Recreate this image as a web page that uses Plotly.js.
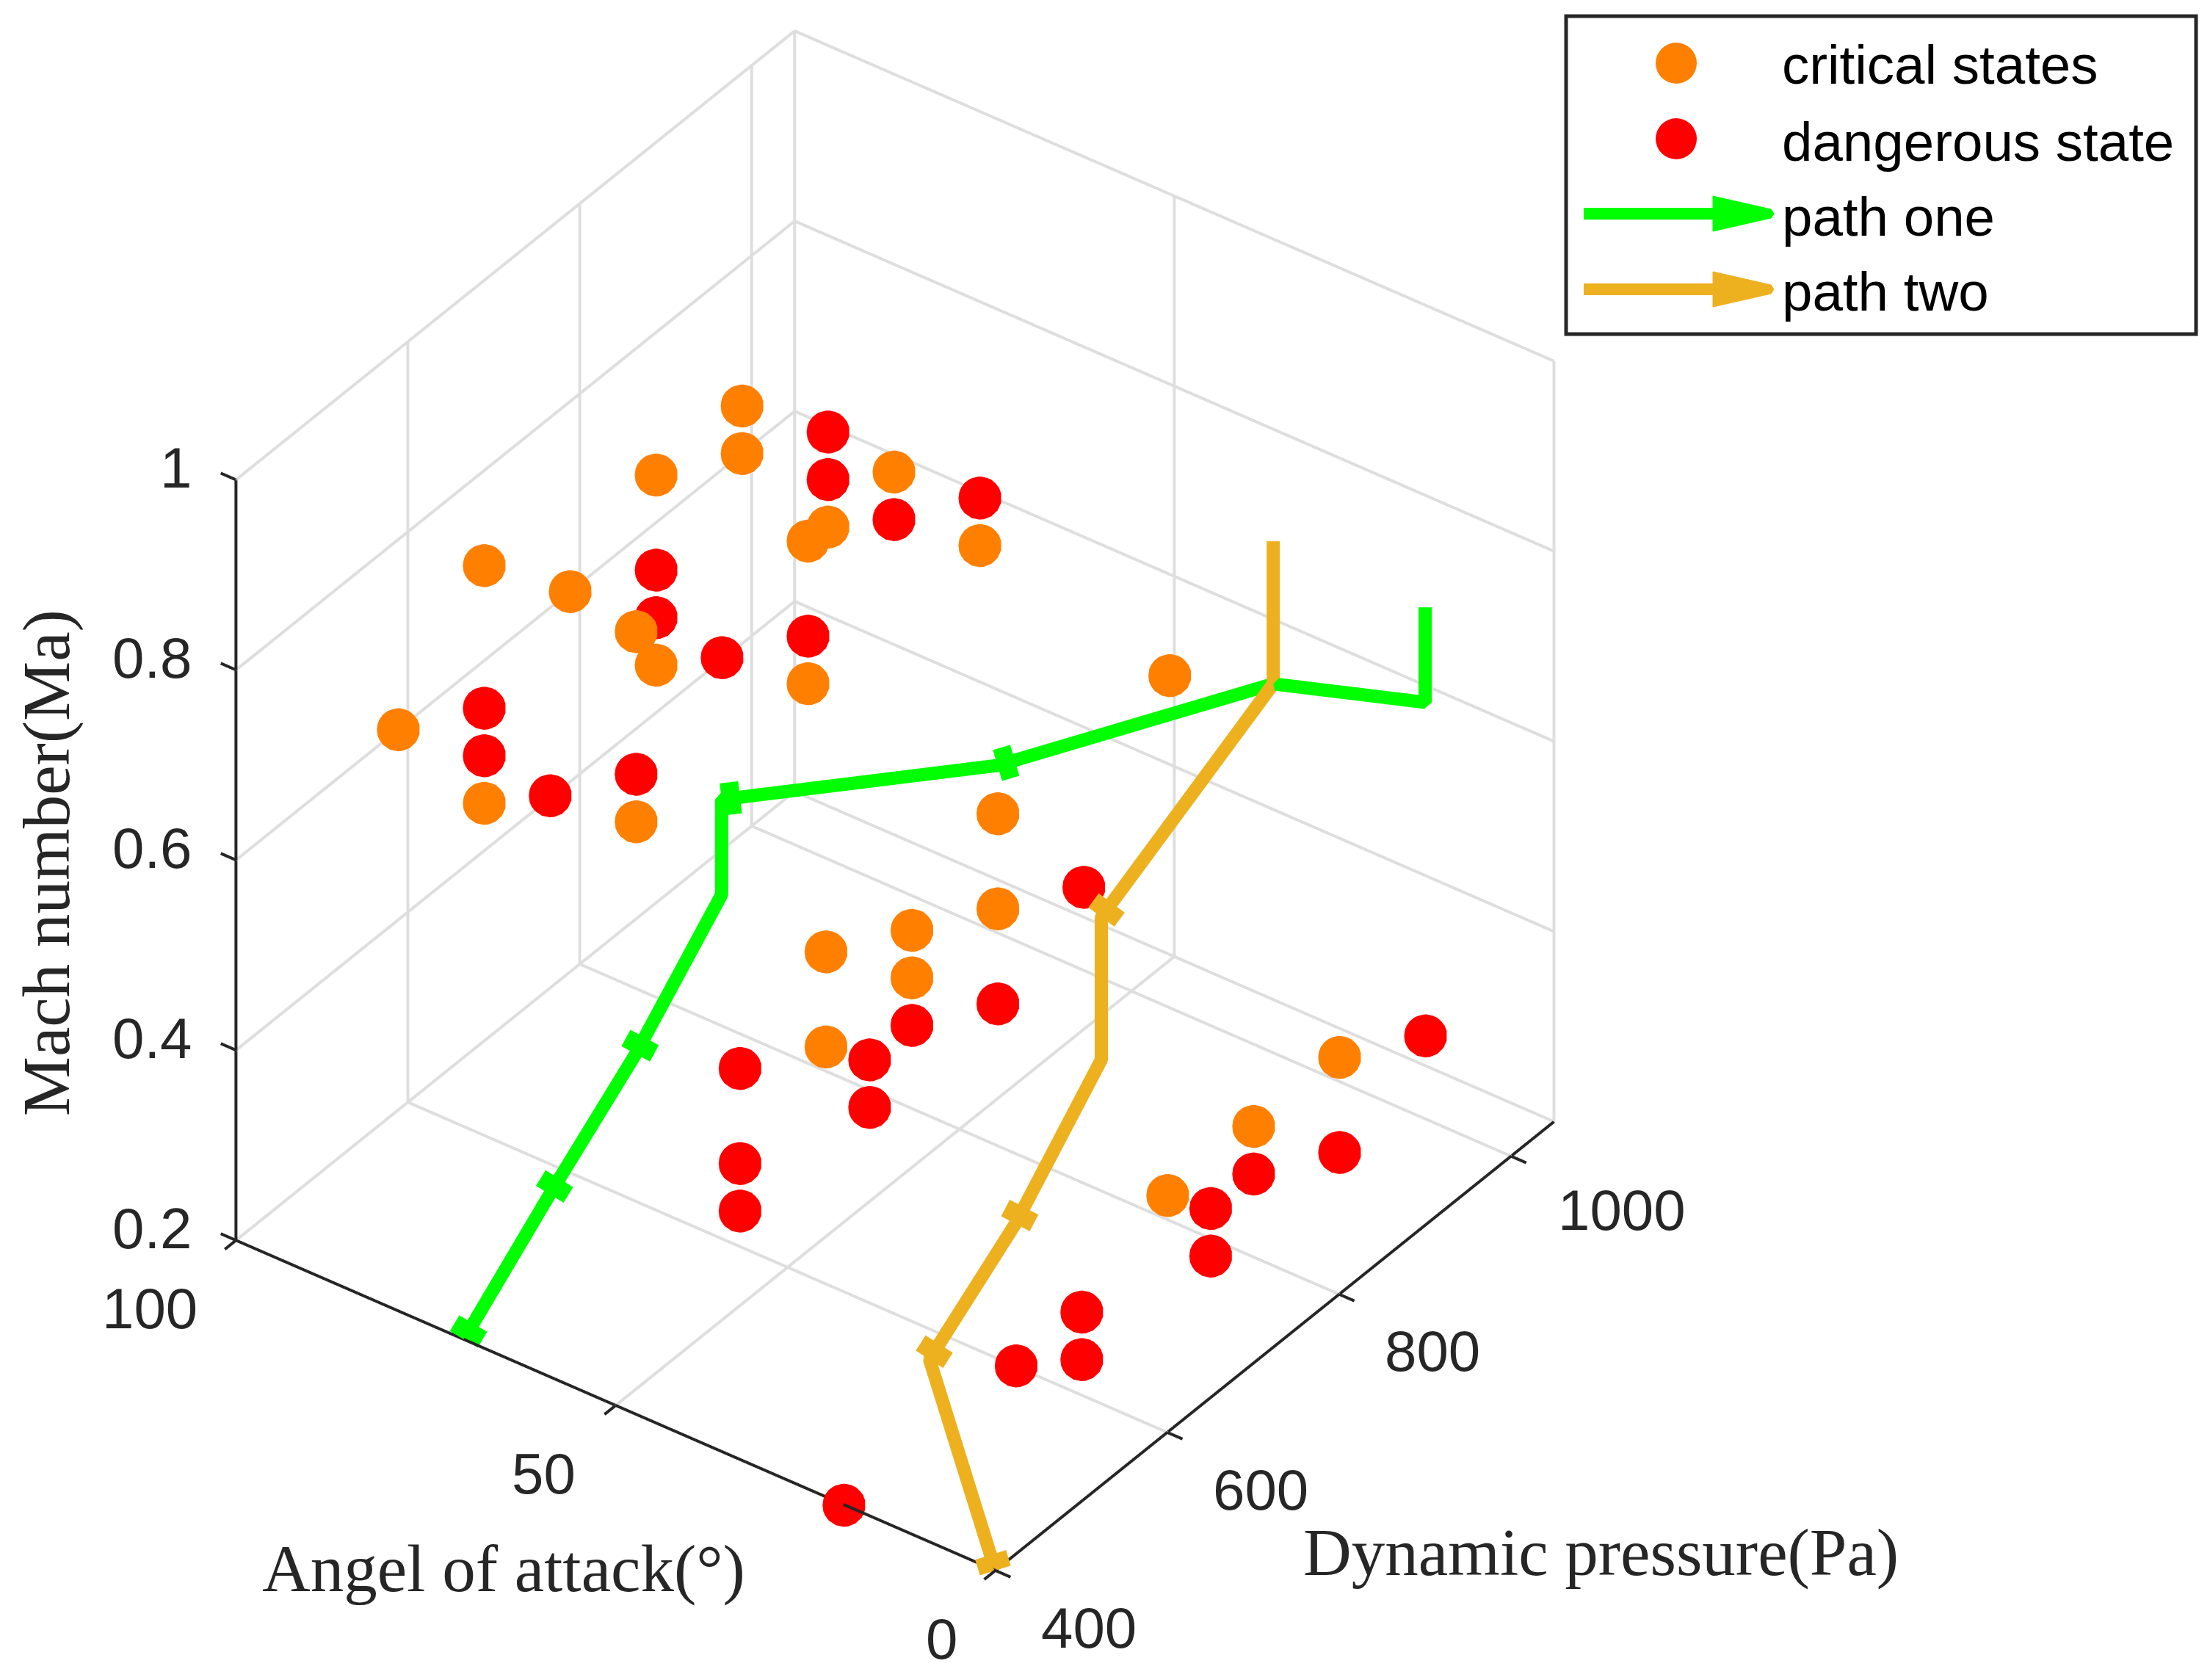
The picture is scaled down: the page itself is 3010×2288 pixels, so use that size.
<!DOCTYPE html>
<html><head><meta charset="utf-8">
<script src="https://cdn.plot.ly/plotly-3.0.1.min.js"></script>
<style>html,body{margin:0;padding:0;background:#fff}</style></head>
<body><div id="chart" style="width:3010px;height:2288px"></div>
<script>
// x = dynamic pressure, y = angle of attack, z = Mach number
const criticalQ = [900,900,800,900,1000,800,1000,600,700,600,800,800,1000,500,600,600,800,800,700,700,600,600,800,700,600];
const criticalA = [90,90,90,70,90,70,70,90,90,70,90,70,45,90,90,70,45,45,45,45,45,45,0,0,0];
const criticalM = [0.75,0.70,0.75,0.75,0.55,0.75,0.60,0.80,0.70,0.80,0.55,0.60,0.55,0.70,0.55,0.60,0.55,0.45,0.50,0.45,0.55,0.45,0.45,0.45,0.45];

const dangerQ = [1000,1000,900,1000,800,800,700,800,600,600,500,600,900,800,700,695,695,500,500,500,900,800,700,650,650,500,500,512,400];
const dangerA = [90,90,70,70,90,90,70,70,90,90,70,70,45,45,45,50,50,45,45,45,0,0,0,0,0,0,0,10,20];
const dangerM = [0.65,0.60,0.70,0.65,0.65,0.60,0.70,0.65,0.65,0.60,0.70,0.65,0.40,0.35,0.40,0.35,0.30,0.50,0.40,0.35,0.40,0.35,0.40,0.40,0.35,0.40,0.35,0.30,0.20];

const pathOneQ = [900,900,900,800,700,700,600,500,400];
const pathOneA = [0,0,20,45,70,70,70,70,70];
const pathOneM = [0.85,0.75,0.70,0.60,0.55,0.45,0.355,0.28,0.20];
const pathOneHeads = [3,4,6,7,8];

const pathTwoQ = [900,900,700,700,600,500,400];
const pathTwoA = [20,20,20,20,20,20,0];
const pathTwoM = [0.85,0.70,0.60,0.45,0.35,0.28,0.20];
const pathTwoHeads = [2,4,5,6];

const qRange = [400,1050], aRange = [0,100], mRange = [0.2,1];
const qTicks = [400,600,800,1000], aTicks = [0,50,100], mTicks = [0.2,0.4,0.6,0.8,1];
const mTickText = ['0.2','0.4','0.6','0.8','1'];

const seriesNames = ['critical states','dangerous state','path one','path two'];
const titleAlpha = 'Angel of attack(°)', titleQ = 'Dynamic pressure(Pa)', titleM = 'Mach number(Ma)';

const ORANGE='#FF8000', RED='#FF0000', GREEN='#00FF00', GOLD='#EDB120', INK='#262626', GRID='#DEDEDE';
const W=3010,H=2288;
const PAD=0.03, TICK=0.02, HEAD=0.02;
const pad=r=>[r[0]-PAD*(r[1]-r[0]),r[1]+PAD*(r[1]-r[0])];
const qSpan=qRange[1]-qRange[0], aSpan=aRange[1]-aRange[0], mSpan=mRange[1]-mRange[0];

function segs(list){ // list of [x0,y0,z0,x1,y1,z1]
  const x=[],y=[],z=[];
  list.forEach(s=>{x.push(s[0],s[3],null);y.push(s[1],s[4],null);z.push(s[2],s[5],null);});
  return {x,y,z};
}
// short wide stub just upstream of a path node: the squat arrow head of the original
function heads(q,a,m,idx){
  return segs(idx.map(i=>{
    const dx=(q[i]-q[i-1])/qSpan, dy=(a[i]-a[i-1])/aSpan, dz=(m[i]-m[i-1])/mSpan;
    const n=Math.hypot(dx,dy,dz);
    return [q[i],a[i],m[i],q[i]-dx/n*HEAD*qSpan,a[i]-dy/n*HEAD*aSpan,m[i]-dz/n*HEAD*mSpan];
  }));
}
const gridSegs=[], axisSegs=[];
const [q0,q1]=qRange,[a0,a1]=aRange,[m0,m1]=mRange;
qTicks.forEach(q=>{gridSegs.push([q,a0,m0,q,a1,m0],[q,a1,m0,q,a1,m1]);});
aTicks.forEach(a=>{gridSegs.push([q0,a,m0,q1,a,m0],[q1,a,m0,q1,a,m1]);});
mTicks.forEach(m=>{gridSegs.push([q0,a1,m,q1,a1,m],[q1,a0,m,q1,a1,m]);});
axisSegs.push([q0,a0,m0,q1,a0,m0],[q0,a0,m0,q0,a1,m0],[q0,a1,m0,q0,a1,m1]);
qTicks.forEach(q=>axisSegs.push([q,a0,m0,q,a0-TICK*aSpan,m0]));
aTicks.forEach(a=>axisSegs.push([q0,a,m0,q0-TICK*qSpan,a,m0]));
mTicks.forEach(m=>axisSegs.push([q0,a1,m,q0,a1+TICK*aSpan,m]));

const lineBase={type:'scatter3d',mode:'lines',showlegend:false,hoverinfo:'skip',connectgaps:false};
const traces=[
 Object.assign({},lineBase,{line:{color:GRID,width:8}},segs(gridSegs)),
 Object.assign({},lineBase,{line:{color:INK,width:8}},segs(axisSegs)),
 {type:'scatter3d',mode:'lines',name:seriesNames[2],x:pathOneQ,y:pathOneA,z:pathOneM,line:{color:GREEN,width:36},showlegend:false},
 {type:'scatter3d',mode:'lines',name:seriesNames[3],x:pathTwoQ,y:pathTwoA,z:pathTwoM,line:{color:GOLD,width:36},showlegend:false},
 Object.assign({},lineBase,{line:{color:GREEN,width:88}},heads(pathOneQ,pathOneA,pathOneM,pathOneHeads)),
 Object.assign({},lineBase,{line:{color:GOLD,width:88}},heads(pathTwoQ,pathTwoA,pathTwoM,pathTwoHeads)),
 {type:'scatter3d',mode:'markers',name:seriesNames[0],x:criticalQ,y:criticalA,z:criticalM,marker:{color:ORANGE,size:34,line:{width:0}},showlegend:false},
 {type:'scatter3d',mode:'markers',name:seriesNames[1],x:dangerQ,y:dangerA,z:dangerM,marker:{color:RED,size:34,line:{width:0}},showlegend:false}
];
const tickFont={family:'"Liberation Sans",Arial,sans-serif',size:78,color:INK};
const sceneAnn=[];
mTicks.forEach((m,i)=>sceneAnn.push({x:qRange[0],y:aRange[1],z:m,text:mTickText[i],showarrow:false,xanchor:'right',xshift:-58,yshift:16,font:tickFont}));
aTicks.forEach(a=>sceneAnn.push({x:qRange[0],y:a,z:mRange[0],text:String(a),showarrow:false,xanchor:'center',xshift:a===100?-117:(a===50?-98:-73),yshift:-93,font:tickFont}));
qTicks.forEach(q=>sceneAnn.push({x:q,y:aRange[0],z:mRange[0],text:String(q),showarrow:false,xanchor:'center',xshift:q===1000?151:127,yshift:q===1000?-74:-78,font:tickFont}));

const axisBase={showbackground:false,showgrid:false,zeroline:false,showline:false,showticklabels:false,ticks:'',showspikes:false,title:{text:''},autorange:false};

const titleFont={family:'"Liberation Serif","Times New Roman",serif',size:91,color:INK};
const legFont={family:'"Liberation Sans",Arial,sans-serif',size:74.5,color:'#000'};
const px=v=>v/W, py=v=>1-v/H;
const legendRows=[{c:ORANGE,y:86,ty:89},{c:RED,y:189,ty:193},{c:GREEN,y:291,ty:295},{c:GOLD,y:394,ty:397}];
const shapes=[{type:'rect',xref:'paper',yref:'paper',x0:px(2133),x1:px(2991),y0:py(22),y1:py(455),line:{color:INK,width:5},fillcolor:'#fff'}];
legendRows.slice(0,2).forEach(r=>shapes.push({type:'circle',xref:'paper',yref:'paper',x0:px(2283-28),x1:px(2283+28),y0:py(r.y-28),y1:py(r.y+28),fillcolor:r.c,line:{width:0}}));
legendRows.slice(2).forEach(r=>{
  shapes.push({type:'line',xref:'paper',yref:'paper',x0:px(2157),x1:px(2340),y0:py(r.y),y1:py(r.y),line:{color:r.c,width:16}});
  shapes.push({type:'path',xref:'paper',yref:'paper',path:`M ${px(2333)} ${py(r.y-24)} L ${px(2412)} ${py(r.y-6)} L ${px(2416)} ${py(r.y)} L ${px(2412)} ${py(r.y+6)} L ${px(2333)} ${py(r.y+24)} Z`,fillcolor:r.c,line:{color:r.c,width:1}});
});
const mid={xanchor:'center',yanchor:'middle',showarrow:false,xref:'paper',yref:'paper'};
const annotations=[
 Object.assign({x:px(686),y:py(2136),text:titleAlpha,font:titleFont},mid),
 Object.assign({x:px(2180),y:py(2114),text:titleQ,font:titleFont},mid),
 Object.assign({x:px(63),y:py(1175),text:titleM,textangle:-90,font:titleFont},mid)
];
seriesNames.forEach((n,i)=>annotations.push(Object.assign({},mid,{x:px(2425),y:py(legendRows[i].ty),xanchor:'left',text:n,font:legFont})));

const d=1.6, S=1.255;
const layout={width:W,height:H,paper_bgcolor:'#fff',margin:{l:0,r:0,t:0,b:0},showlegend:false,shapes,annotations,
 scene:{domain:{x:[0,0.81],y:[0.0495,0.9975]},aspectmode:'manual',aspectratio:{x:S,y:S,z:S},
  camera:{projection:{type:'orthographic'},up:{x:0,y:0,z:1},center:{x:0,y:0,z:0},eye:{x:-0.6498*d,y:-0.478*d,z:0.591*d}},
  xaxis:Object.assign({},axisBase,{range:pad(qRange)}),
  yaxis:Object.assign({},axisBase,{range:pad(aRange)}),
  zaxis:Object.assign({},axisBase,{range:pad(mRange)}),
  annotations:sceneAnn}};
Plotly.newPlot('chart',traces,layout,{displayModeBar:false});
</script></body></html>
